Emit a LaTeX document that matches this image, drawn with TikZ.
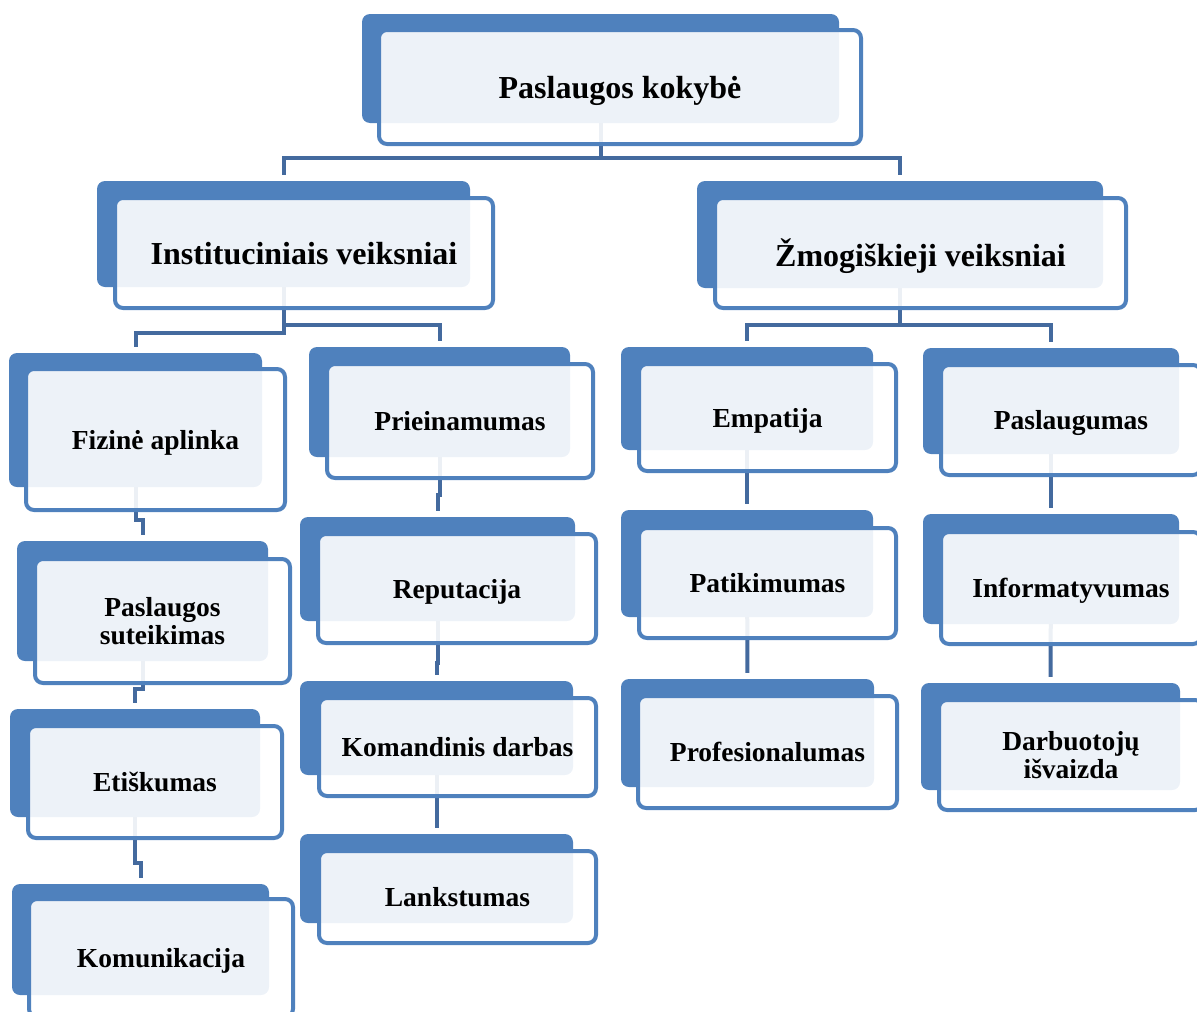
\documentclass[tikz,border=0pt]{standalone}
\usepackage{fontspec}
\setmainfont{Liberation Serif}
\usetikzlibrary{positioning, backgrounds}
\definecolor{boxblue}{RGB}{79, 129, 189}
\definecolor{linkblue}{RGB}{68, 106, 158}

\begin{document}
\begin{tikzpicture}[
      x=1pt, y=-1pt,
      back/.style={rectangle, rounded corners=8pt, fill=boxblue, inner sep=0pt},
      front/.style={rectangle, rounded corners=8pt, draw=boxblue, line width=4pt, fill=white, fill opacity=0.9, text opacity=1, draw opacity=1, inner sep=0pt, text depth=0pt, align=center},
      big/.style={font=\fontsize{32}{34}\selectfont\bfseries},
      small/.style={font=\fontsize{27.5}{28.5}\selectfont\bfseries},
      link/.style={draw=linkblue, line width=4pt, shorten >=6pt}
  ]
  \useasboundingbox (0,0) rectangle (1197,1012);

  % Top
  \node[back, minimum width=477, minimum height=109] (topA) at (600.5,68.5) {};
  \node[front, big, minimum width=482, minimum height=114] (top) at (620,87) {Paslaugos kokybė};

  % Level 1
  \node[back, minimum width=373, minimum height=106] (instA) at (283.5,234) {};
  \node[front, big, minimum width=378, minimum height=110] (inst) at (304,253) {Instituciniais veiksniai};
  \node[back, minimum width=406, minimum height=107] (zmogA) at (900,234.5) {};
  \node[front, big, minimum width=411, minimum height=110] (zmog) at (920.5,253) {Žmogiškieji veiksniai};

  % Column 1
  \node[back, minimum width=253, minimum height=134] (fizA) at (135.5,420) {};
  \node[front, small, minimum width=259, minimum height=141] (fiz) at (155.5,439.5) {Fizinė aplinka};
  \node[back, minimum width=251, minimum height=120] (paslA) at (142.5,601) {};
  \node[front, small, minimum width=255, minimum height=124] (pasl) at (162.5,621) {Paslaugos\\suteikimas};
  \node[back, minimum width=250, minimum height=108] (etisA) at (135,763) {};
  \node[front, small, minimum width=254, minimum height=112] (etis) at (155,782) {Etiškumas};
  \node[back, minimum width=257, minimum height=111] (komuA) at (140.5,939.5) {};
  \node[front, small, minimum width=264, minimum height=118] (komu) at (161,958) {Komunikacija};

  % Column 2
  \node[back, minimum width=261, minimum height=110] (prieA) at (439.5,402) {};
  \node[front, small, minimum width=266, minimum height=114] (prie) at (460,421) {Prieinamumas};
  \node[back, minimum width=275, minimum height=104] (repuA) at (437.5,569) {};
  \node[front, small, minimum width=278, minimum height=109] (repu) at (457,588.5) {Reputacija};
  \node[back, minimum width=273, minimum height=94] (komaA) at (436.5,728) {};
  \node[front, small, minimum width=277, minimum height=98] (koma) at (457.5,747) {Komandinis darbas};
  \node[back, minimum width=273, minimum height=89] (lankA) at (436.5,878.5) {};
  \node[front, small, minimum width=277, minimum height=92] (lank) at (457.5,897) {Lankstumas};

  % Column 3
  \node[back, minimum width=252, minimum height=103] (empaA) at (747,398.5) {};
  \node[front, small, minimum width=257, minimum height=107] (empa) at (767.5,417.5) {Empatija};
  \node[back, minimum width=252, minimum height=107] (patiA) at (747,563.5) {};
  \node[front, small, minimum width=257, minimum height=110] (pati) at (767.5,583) {Patikimumas};
  \node[back, minimum width=253, minimum height=108] (profA) at (747.5,733) {};
  \node[front, small, minimum width=259, minimum height=112] (prof) at (767.5,752) {Profesionalumas};

  % Column 4
  \node[back, minimum width=256, minimum height=106] (pasgA) at (1051,401) {};
  \node[front, small, minimum width=260, minimum height=110] (pasg) at (1071,420) {Paslaugumas};
  \node[back, minimum width=256, minimum height=110] (infoA) at (1051,569) {};
  \node[front, small, minimum width=260, minimum height=112] (info) at (1071,588) {Informatyvumas};
  \node[back, minimum width=259, minimum height=107] (darbA) at (1050.5,736.5) {};
  \node[front, small, minimum width=264, minimum height=110] (darb) at (1071,755) {Darbuotojų\\išvaizda};

  % Connectors
  \begin{scope}[on background layer]
    \draw[link] (topA.center) -- ++(0,89.5) -| (instA.north);
    \draw[link] (topA.center) -- ++(0,89.5) -| (zmogA.north);
    \draw[link] (instA.center) -- ++(0,99) -| (fizA.north);
    \draw[link] (instA.center) -- ++(0,91) -| (prieA.north);
    \draw[link] (zmogA.center) -- ++(0,90.5) -| (empaA.north);
    \draw[link] (zmogA.center) -- ++(0,90.5) -| (pasgA.north);
    \draw[link] (fizA.center) -- ++(0,100) -| (paslA.north);
    \draw[link] (paslA.center) -- ++(0,88) -| (etisA.north);
    \draw[link] (etisA.center) -- ++(0,100) -| (komuA.north);
    \draw[link] (prieA.center) -- ++(0,93) -| (repuA.north);
    \draw[link] (repuA.center) -- ++(0,94) -| (komaA.north);
    \draw[link] (komaA.center) -- (lankA.north);
    \draw[link] (empaA.center) -- (patiA.north);
    \draw[link] (patiA.center) -- (profA.north);
    \draw[link] (pasgA.center) -- (infoA.north);
    \draw[link] (infoA.center) -- (darbA.north);
  \end{scope}

\end{tikzpicture}
\end{document}
